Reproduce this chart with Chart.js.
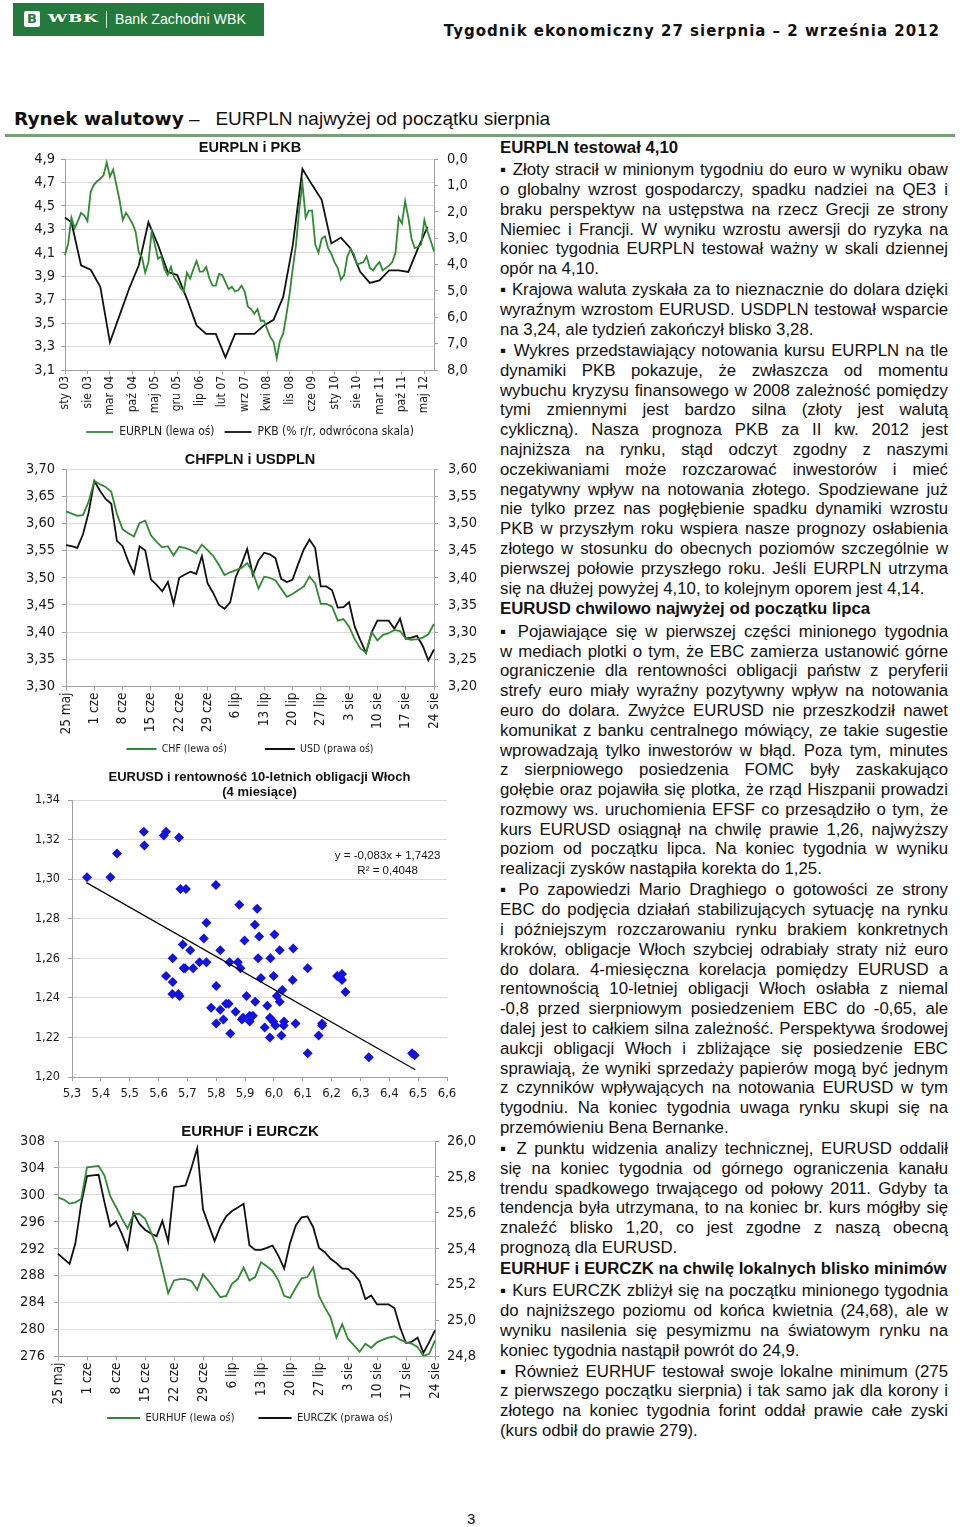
<!DOCTYPE html>
<html lang="pl">
<head>
<meta charset="utf-8">
<title>Rynek walutowy</title>
<script src="https://cdn.jsdelivr.net/npm/chart.js@4.4.1/dist/chart.umd.min.js"></script>
<style>
html,body{margin:0;padding:0;background:#fff;}
#page{position:relative;width:960px;height:1527px;overflow:hidden;font-family:"Liberation Sans",Arial,sans-serif;color:#111;}
.abs{position:absolute;}
#brand{left:13px;top:3px;width:251px;height:33px;background:#237a3c;}
#logo{left:11px;top:8px;width:16px;height:16px;background:#fff;border-radius:2px;color:#237a3c;font:bold 13px/16px "DejaVu Sans",sans-serif;text-align:center;}
#wbk{left:35px;top:9px;color:#fff;font:bold 11px/14px "DejaVu Serif",serif;letter-spacing:0.5px;transform:scaleX(1.55);transform-origin:left center;}
#bdiv{left:93px;top:8px;width:1px;height:17px;background:#d8e8dc;}
#bname{left:102px;top:7px;color:#fff;font:14.2px/19px "Liberation Sans",Arial,sans-serif;white-space:nowrap;}
#doctitle{right:20px;top:21px;font:bold 15px/20px "DejaVu Sans",sans-serif;letter-spacing:1px;white-space:nowrap;color:#111;}
#section{left:14px;top:107px;white-space:nowrap;line-height:24px;}
#section b{font:bold 18.5px/24px "DejaVu Sans",sans-serif;}
#section span{font:19px/24px "Liberation Sans",Arial,sans-serif;}
#rule{left:5px;top:134px;width:950px;height:3px;background:#76a176;}
canvas{position:absolute;}
#text{left:500px;top:137px;width:448px;font-size:16.8px;line-height:19.8px;color:#111;}
#text .h{font-weight:bold;line-height:22px;white-space:nowrap;}
#text .p{margin-top:1.3px;}
#text .l{text-align:justify;text-align-last:justify;}
#pnum{left:467px;top:1510px;font:15px/18px "Liberation Sans",Arial,sans-serif;}
</style>
</head>
<body>
<div id="page">
  <div id="brand" class="abs">
    <div id="logo" class="abs">B</div>
    <div id="wbk" class="abs">WBK</div>
    <div id="bdiv" class="abs"></div>
    <div id="bname" class="abs">Bank Zachodni WBK</div>
  </div>
  <div id="doctitle" class="abs">Tygodnik ekonomiczny 27 sierpnia – 2 września 2012</div>
  <div id="section" class="abs"><b>Rynek walutowy</b><span>&nbsp;–&nbsp;&nbsp;&nbsp;EURPLN najwyżej od początku sierpnia</span></div>
  <div id="rule" class="abs"></div>

  <canvas id="c1" width="460" height="310" style="left:20px;top:138px;"></canvas>
  <canvas id="c2" width="460" height="345" style="left:20px;top:450px;"></canvas>
  <canvas id="c3" width="460" height="338" style="left:20px;top:765px;"></canvas>
  <canvas id="c4" width="460" height="329" style="left:20px;top:1123px;"></canvas>

  <div id="text" class="abs">
    <div class="h">EURPLN testował 4,10</div>
    <div class="p">
      <div class="l">▪ Złoty stracił w minionym tygodniu do euro w wyniku obaw</div>
      <div class="l">o globalny wzrost gospodarczy, spadku nadziei na QE3 i</div>
      <div class="l">braku perspektyw na ustępstwa na rzecz Grecji ze strony</div>
      <div class="l">Niemiec i Francji. W wyniku wzrostu awersji do ryzyka na</div>
      <div class="l">koniec tygodnia EURPLN testował ważny w skali dziennej</div>
      <div>opór na 4,10.</div>
    </div>
    <div class="p">
      <div class="l">▪ Krajowa waluta zyskała za to nieznacznie do dolara dzięki</div>
      <div class="l">wyraźnym wzrostom EURUSD. USDPLN testował wsparcie</div>
      <div>na 3,24, ale tydzień zakończył blisko 3,28.</div>
    </div>
    <div class="p">
      <div class="l">▪ Wykres przedstawiający notowania kursu EURPLN na tle</div>
      <div class="l">dynamiki PKB pokazuje, że zwłaszcza od momentu</div>
      <div class="l">wybuchu kryzysu finansowego w 2008 zależność pomiędzy</div>
      <div class="l">tymi zmiennymi jest bardzo silna (złoty jest walutą</div>
      <div class="l">cykliczną). Nasza prognoza PKB za II kw. 2012 jest</div>
      <div class="l">najniższa na rynku, stąd odczyt zgodny z naszymi</div>
      <div class="l">oczekiwaniami może rozczarować inwestorów i mieć</div>
      <div class="l">negatywny wpływ na notowania złotego. Spodziewane już</div>
      <div class="l">nie tylko przez nas pogłębienie spadku dynamiki wzrostu</div>
      <div class="l">PKB w przyszłym roku wspiera nasze prognozy osłabienia</div>
      <div class="l">złotego w stosunku do obecnych poziomów szczególnie w</div>
      <div class="l">pierwszej połowie przyszłego roku. Jeśli EURPLN utrzyma</div>
      <div>się na dłużej powyżej 4,10, to kolejnym oporem jest 4,14.</div>
    </div>
    <div class="h">EURUSD chwilowo najwyżej od początku lipca</div>
    <div class="p">
      <div class="l">▪ Pojawiające się w pierwszej części minionego tygodnia</div>
      <div class="l">w mediach plotki o tym, że EBC zamierza ustanowić górne</div>
      <div class="l">ograniczenie dla rentowności obligacji państw z peryferii</div>
      <div class="l">strefy euro miały wyraźny pozytywny wpływ na notowania</div>
      <div class="l">euro do dolara. Zwyżce EURUSD nie przeszkodził nawet</div>
      <div class="l">komunikat z banku centralnego mówiący, ze takie sugestie</div>
      <div class="l">wprowadzają tylko inwestorów w błąd. Poza tym, minutes</div>
      <div class="l">z sierpniowego posiedzenia FOMC były zaskakująco</div>
      <div class="l">gołębie oraz pojawiła się plotka, że rząd Hiszpanii prowadzi</div>
      <div class="l">rozmowy ws. uruchomienia EFSF co przesądziło o tym, że</div>
      <div class="l">kurs EURUSD osiągnął na chwilę prawie 1,26, najwyższy</div>
      <div class="l">poziom od początku lipca. Na koniec tygodnia w wyniku</div>
      <div>realizacji zysków nastąpiła korekta do 1,25.</div>
    </div>
    <div class="p">
      <div class="l">▪ Po zapowiedzi Mario Draghiego o gotowości ze strony</div>
      <div class="l">EBC do podjęcia działań stabilizujących sytuację na rynku</div>
      <div class="l">i późniejszym rozczarowaniu rynku brakiem konkretnych</div>
      <div class="l">kroków, obligacje Włoch szybciej odrabiały straty niż euro</div>
      <div class="l">do dolara. 4-miesięczna korelacja pomiędzy EURUSD a</div>
      <div class="l">rentownością 10-letniej obligacji Włoch osłabła z niemal</div>
      <div class="l">-0,8 przed sierpniowym posiedzeniem EBC do -0,65, ale</div>
      <div class="l">dalej jest to całkiem silna zależność. Perspektywa środowej</div>
      <div class="l">aukcji obligacji Włoch i zbliżające się posiedzenie EBC</div>
      <div class="l">sprawiają, że wyniki sprzedaży papierów mogą być jednym</div>
      <div class="l">z czynników wpływających na notowania EURUSD w tym</div>
      <div class="l">tygodniu. Na koniec tygodnia uwaga rynku skupi się na</div>
      <div>przemówieniu Bena Bernanke.</div>
    </div>
    <div class="p">
      <div class="l">▪ Z punktu widzenia analizy technicznej, EURUSD oddalił</div>
      <div class="l">się na koniec tygodnia od górnego ograniczenia kanału</div>
      <div class="l">trendu spadkowego trwającego od połowy 2011. Gdyby ta</div>
      <div class="l">tendencja była utrzymana, to na koniec br. kurs mógłby się</div>
      <div class="l">znaleźć blisko 1,20, co jest zgodne z naszą obecną</div>
      <div>prognozą dla EURUSD.</div>
    </div>
    <div class="h">EURHUF i EURCZK na chwilę lokalnych blisko minimów</div>
    <div class="p">
      <div class="l">▪ Kurs EURCZK zbliżył się na początku minionego tygodnia</div>
      <div class="l">do najniższego poziomu od końca kwietnia (24,68), ale w</div>
      <div class="l">wyniku nasilenia się pesymizmu na światowym rynku na</div>
      <div>koniec tygodnia nastąpił powrót do 24,9.</div>
    </div>
    <div class="p">
      <div class="l">▪ Również EURHUF testował swoje lokalne minimum (275</div>
      <div class="l">z pierwszego początku sierpnia) i tak samo jak dla korony i</div>
      <div class="l">złotego na koniec tygodnia forint oddał prawie całe zyski</div>
      <div>(kurs odbił do prawie 279).</div>
    </div>
  </div>
  <div id="pnum" class="abs">3</div>
</div>

<script>
// ---------- DATA ----------
const plMonths = ['sty','lut','mar','kwi','maj','cze','lip','sie','wrz','paź','lis','gru'];

// Chart 1: EURPLN (monthly, sty 03 .. sie 12) and PKB (quarterly, reversed axis)
const eurplnTicks = ['sty 03','sie 03','mar 04','paź 04','maj 05','gru 05','lip 06','lut 07','wrz 07','kwi 08','lis 08','cze 09','sty 10','sie 10','mar 11','paź 11','maj 12'];
const eurplnValues = [
  4.08,4.18,4.40,4.31,4.37,4.44,4.42,4.37,4.62,4.68,4.71,4.73,
  4.76,4.87,4.75,4.81,4.68,4.55,4.38,4.44,4.40,4.35,4.28,4.10,
  4.06,3.93,4.02,4.28,4.17,4.05,4.07,3.96,3.91,3.98,3.89,3.85,
  3.80,3.77,3.93,3.88,3.96,4.03,3.94,3.94,3.98,3.88,3.82,3.82,
  3.92,3.91,3.85,3.79,3.81,3.77,3.78,3.82,3.77,3.64,3.62,3.58,
  3.62,3.52,3.52,3.45,3.38,3.34,3.20,3.35,3.41,3.57,3.75,3.97,
  4.17,4.47,4.69,4.40,4.46,4.46,4.17,4.10,4.22,4.24,4.14,4.09,
  4.02,3.97,3.87,3.91,4.07,4.13,4.09,4.00,4.01,4.02,4.07,3.97,
  3.95,3.99,4.02,3.95,3.97,3.99,4.02,4.10,4.40,4.35,4.54,4.40,
  4.22,4.14,4.15,4.17,4.38,4.28,4.20,4.11
];
const pkbLabels = ['sty 03','mar 03','cze 03','wrz 03','gru 03','mar 04','cze 04','wrz 04','gru 04',
  'mar 05','cze 05','wrz 05','gru 05','mar 06','cze 06','wrz 06','gru 06','mar 07','cze 07','wrz 07','gru 07',
  'mar 08','cze 08','wrz 08','gru 08','mar 09','cze 09','wrz 09','gru 09','mar 10','cze 10','wrz 10','gru 10',
  'mar 11','cze 11','wrz 11','gru 11','mar 12','cze 12'];
const pkbValues = [2.22,2.40,4.03,4.20,4.85,6.95,5.93,4.91,4.03,2.40,3.26,4.28,4.40,5.30,6.31,6.63,6.63,
  7.52,6.63,6.63,6.63,6.31,6.10,5.23,3.26,0.38,0.98,1.55,3.20,2.98,3.39,4.28,4.70,4.60,4.22,4.22,4.28,3.39,2.57];

// Charts 2 and 4: daily (business days 25 maj .. 24 sie 2012)
const dailyTicks = ['25 maj','1 cze','8 cze','15 cze','22 cze','29 cze','6 lip','13 lip','20 lip','27 lip','3 sie','10 sie','17 sie','24 sie'];
const chfValues = [
  3.622,3.618,3.614,3.615,3.640,3.678,3.672,3.667,3.658,3.617,
  3.589,3.582,3.576,3.601,3.605,3.578,3.566,3.556,3.558,3.541,
  3.557,3.555,3.551,3.545,3.561,3.551,3.540,3.524,3.505,3.510,
  3.514,3.518,3.527,3.510,3.480,3.502,3.500,3.495,3.480,3.465,
  3.470,3.477,3.484,3.502,3.490,3.452,3.452,3.447,3.421,3.424,
  3.410,3.387,3.370,3.362,3.400,3.385,3.395,3.398,3.404,3.402,
  3.388,3.386,3.387,3.390,3.396,3.415
];
const usdValues = [
  3.460,3.458,3.455,3.480,3.520,3.578,3.560,3.545,3.536,3.468,
  3.458,3.430,3.408,3.458,3.450,3.397,3.387,3.375,3.392,3.352,
  3.400,3.406,3.411,3.407,3.440,3.390,3.372,3.350,3.343,3.355,
  3.402,3.425,3.453,3.405,3.432,3.446,3.443,3.436,3.398,3.392,
  3.396,3.425,3.452,3.470,3.455,3.384,3.384,3.377,3.345,3.346,
  3.355,3.310,3.285,3.262,3.300,3.321,3.321,3.321,3.306,3.325,
  3.288,3.290,3.293,3.275,3.248,3.268
];
const eurhufValues = [
  299.6,299.3,298.7,298.9,299.4,304.1,304.2,304.3,302.9,299.8,
  298.2,296.5,295.0,297.1,297.2,296.5,294.5,292.5,289.0,285.4,
  287.3,287.5,287.5,287.2,285.9,288.2,287.2,286.0,284.8,285.0,
  286.8,287.5,289.2,287.3,287.8,290.0,289.4,288.7,287.3,285.0,
  284.7,286.2,287.6,287.8,289.2,285.0,283.3,281.8,278.8,280.8,
  278.6,277.7,276.7,277.9,277.3,278.1,278.5,278.8,279.0,278.5,
  278.1,277.9,277.4,276.1,276.4,278.4
];
const eurczkValues = [
  25.372,25.344,25.316,25.430,25.650,25.805,25.809,25.812,25.660,25.525,
  25.552,25.483,25.400,25.600,25.540,25.506,25.485,25.470,25.555,25.440,
  25.744,25.747,25.753,25.850,25.960,25.620,25.530,25.443,25.525,25.580,
  25.610,25.630,25.651,25.420,25.394,25.394,25.405,25.418,25.360,25.290,
  25.430,25.530,25.575,25.580,25.520,25.405,25.381,25.344,25.320,25.290,
  25.288,25.260,25.220,25.120,25.140,25.090,25.090,25.090,25.070,24.960,
  24.875,24.882,24.905,24.820,24.880,24.945
];

// Chart 3: scatter, Italian 10y yield (x) vs EURUSD (y)
const itYield = [5.352,5.433,5.456,5.549,5.551,5.618,5.626,5.671,5.676,5.695,
  5.799,5.880,5.942,5.766,5.934,5.757,5.949,6.002,5.898,5.684,
  5.710,5.814,6.020,6.067,5.649,5.945,5.988,5.742,5.766,5.846,
  5.875,5.692,5.687,5.720,5.884,6.117,5.626,5.955,5.999,6.219,
  6.236,6.230,6.236,6.065,5.649,5.800,6.029,6.248,5.648,5.669,
  5.673,5.905,6.010,6.020,5.935,5.782,5.834,5.843,5.814,5.867,
  5.977,5.916,5.927,5.893,5.986,5.825,5.889,5.916,5.998,6.035,
  5.800,6.075,6.167,5.968,6.005,6.034,6.167,5.849,5.986,6.026,
  6.155,6.117,6.329,6.479,6.488];
const eurusdValues = [1.301,1.301,1.313,1.324,1.317,1.322,1.324,1.321,1.295,1.295,
  1.297,1.287,1.285,1.278,1.277,1.270,1.271,1.272,1.269,1.267,
  1.264,1.264,1.264,1.265,1.260,1.260,1.260,1.258,1.258,1.258,
  1.258,1.255,1.255,1.255,1.255,1.255,1.251,1.250,1.251,1.251,
  1.252,1.250,1.249,1.249,1.248,1.246,1.244,1.243,1.242,1.242,
  1.241,1.241,1.241,1.238,1.238,1.235,1.237,1.237,1.234,1.233,
  1.236,1.231,1.231,1.230,1.230,1.229,1.229,1.228,1.228,1.228,
  1.227,1.227,1.227,1.225,1.226,1.226,1.226,1.222,1.220,1.221,
  1.221,1.212,1.210,1.212,1.211];
const trendSlope = -0.083, trendIntercept = 1.7423, trendR2 = 0.4048;
const trendXRange = [5.35, 6.49];

// ---------- derived categories ----------
const eurplnMonths = [];
for (let y = 2003; y <= 2012; y++) {
  for (let m = 0; m < 12; m++) {
    if (y === 2012 && m > 7) break;
    eurplnMonths.push(plMonths[m] + ' ' + String(y).slice(2));
  }
}
const dailyLabels = [];
for (let d = new Date(2012, 4, 25); d <= new Date(2012, 7, 24); d.setDate(d.getDate() + 1)) {
  const wd = d.getDay();
  if (wd === 0 || wd === 6) continue;
  dailyLabels.push(d.getDate() + ' ' + plMonths[d.getMonth()]);
}

// ---------- styles ----------
const NARROW = '"Liberation Sans Narrow","Arial Narrow","DejaVu Sans Condensed","Liberation Sans",sans-serif';
const SANS = '"Liberation Sans",Arial,sans-serif';
const GREEN = '#2e8b30', BLACK = '#111111', GRID = '#d9d9d9', AXIS = '#a0a0a0', TXT = '#1a1a1a';
const fmt = (v, d) => Number(v).toFixed(d).replace('.', ',');
const CLEAR = 'rgba(0,0,0,0)';

Chart.defaults.font.family = NARROW;
Chart.defaults.color = TXT;
Chart.defaults.animation = false;

// moves the legend row so that its text is centred on a given y (canvas px)
const legendPlace = {
  id: 'legendPlace',
  afterLayout(chart, args, opts) {
    const L = chart.legend;
    if (!L || opts.centerY == null) return;
    const lo = L.options.labels;
    const cur = L.top + lo.padding + lo.font.size / 2;
    const d = opts.centerY - cur;
    L.top += d; L.bottom += d;
  }
};

function catX(labels, shown, fontSize, height) {
  return {
    type: 'category', offset: false,
    grid: { display: true, drawOnChartArea: false, tickLength: 4, color: c => shown.includes(labels[c.index]) ? AXIS : CLEAR },
    border: { display: true, color: AXIS, width: 1 },
    ticks: { autoSkip: false, maxRotation: 90, minRotation: 90, padding: 2, font: { size: fontSize }, color: TXT,
      callback: (v, i) => shown.includes(labels[i]) ? labels[i] : '' },
    afterFit: s => { s.height = height; }
  };
}
function valY(pos, min, max, step, dec, opts) {
  return {
    type: 'linear', position: pos, min, max, reverse: !!opts.reverse,
    ticks: { stepSize: step, padding: opts.pad, font: { size: opts.font }, color: TXT, callback: v => fmt(v, dec) },
    grid: { drawOnChartArea: pos === 'left', color: GRID, tickLength: 4, tickColor: AXIS },
    border: { display: true, color: AXIS, width: 1 },
    afterFit: s => { s.width = opts.width; }
  };
}
function legendOpts(fontSize, pad, lineW) {
  return { display: true, position: 'bottom',
    labels: { usePointStyle: true, pointStyle: 'line', pointStyleWidth: lineW, padding: pad, color: TXT, font: { size: fontSize } } };
}
function titleOpts(text, size, lh, pt, pb) {
  return { display: true, text, color: '#111', font: { family: SANS, size, weight: 'bold', lineHeight: lh }, padding: { top: pt, bottom: pb } };
}
const base = { responsive: false, maintainAspectRatio: false, animation: false, devicePixelRatio: 1,
  elements: { line: { tension: 0 }, point: { radius: 0 } } };

// ---------- Chart 1: EURPLN i PKB ----------
new Chart(document.getElementById('c1'), {
  type: 'line',
  data: {
    labels: eurplnMonths,
    datasets: [
      { label: 'EURPLN (lewa oś)', data: eurplnValues, yAxisID: 'y', borderColor: GREEN, backgroundColor: GREEN, borderWidth: 1.8, pointRadius: 0 },
      { label: 'PKB (% r/r, odwrócona skala)', data: pkbLabels.map((m, i) => ({ x: m, y: pkbValues[i] })), yAxisID: 'y1', borderColor: BLACK, backgroundColor: BLACK, borderWidth: 1.8, pointRadius: 0 }
    ]
  },
  options: Object.assign({}, base, {
    plugins: { title: titleOpts('EURPLN i PKB', 14.5, 1.2, 1.3, 2.3), legend: legendOpts(12, 10, 27), tooltip: { enabled: false } },
    scales: {
      x: catX(eurplnMonths, eurplnTicks, 12, 46),
      y: valY('left', 3.1, 4.9, 0.2, 1, { pad: 6, font: 14.5, width: 45 }),
      y1: valY('right', 0, 8, 1, 1, { pad: 9, font: 14.5, width: 46, reverse: true })
    }
  })
});

// ---------- Chart 2: CHFPLN i USDPLN ----------
new Chart(document.getElementById('c2'), {
  type: 'line',
  data: {
    labels: dailyLabels,
    datasets: [
      { label: 'CHF (lewa oś)', data: chfValues, yAxisID: 'y', borderColor: GREEN, backgroundColor: GREEN, borderWidth: 1.8, pointRadius: 0 },
      { label: 'USD (prawa oś)', data: usdValues, yAxisID: 'y1', borderColor: BLACK, backgroundColor: BLACK, borderWidth: 1.8, pointRadius: 0 }
    ]
  },
  options: Object.assign({}, base, {
    plugins: { title: titleOpts('CHFPLN i USDPLN', 14.5, 1.2, 1.3, 0.3), legend: legendOpts(10.5, 38, 30),
      legendPlace: { centerY: 299 }, tooltip: { enabled: false } },
    scales: {
      x: catX(dailyLabels, dailyTicks, 13.5, 50),
      y: valY('left', 3.30, 3.70, 0.05, 2, { pad: 7, font: 14.5, width: 46 }),
      y1: valY('right', 3.20, 3.60, 0.05, 2, { pad: 10, font: 14.5, width: 46 })
    }
  }),
  plugins: [legendPlace]
});

// ---------- Chart 3: EURUSD vs Italian yields ----------
const eqPlugin = {
  id: 'trendEquation',
  afterDatasetsDraw(chart) {
    const { ctx, scales: { x, y } } = chart;
    ctx.save();
    ctx.font = '11.5px ' + SANS;
    ctx.fillStyle = '#111';
    ctx.textAlign = 'center';
    ctx.textBaseline = 'middle';
    const px = x.getPixelForValue(6.394);
    ctx.fillText('y = ' + fmt(trendSlope, 3) + 'x + ' + fmt(trendIntercept, 4), px, y.getPixelForValue(1.3119));
    ctx.fillText('R² = ' + fmt(trendR2, 4), px, y.getPixelForValue(1.3043));
    ctx.restore();
  }
};
new Chart(document.getElementById('c3'), {
  type: 'scatter',
  data: {
    datasets: [
      { type: 'line', label: 'trend', data: trendXRange.map(v => ({ x: v, y: trendSlope * v + trendIntercept })), borderColor: '#000', borderWidth: 1.2, pointRadius: 0, order: 0 },
      { type: 'scatter', label: 'EURUSD', data: itYield.map((v, i) => ({ x: v, y: eurusdValues[i] })), pointStyle: 'rectRot', pointRadius: 5, backgroundColor: '#1212e6', borderColor: '#1212e6', borderWidth: 0, order: 1 }
    ]
  },
  options: Object.assign({}, base, {
    layout: { padding: { right: 33 } },
    plugins: {
      title: Object.assign(titleOpts(['EURUSD i rentowność 10-letnich obligacji Włoch', '(4 miesiące)'], 13, 1.15, 4.5, 0.6), { fullSize: false }),
      legend: { display: false }, tooltip: { enabled: false }
    },
    scales: {
      x: { type: 'linear', min: 5.3, max: 6.6,
        ticks: { stepSize: 0.1, padding: 5, font: { size: 13 }, color: TXT, callback: v => fmt(v, 1) },
        grid: { drawOnChartArea: false, tickLength: 4, color: AXIS },
        border: { display: true, color: AXIS },
        afterFit: s => { s.height = 26; } },
      y: { type: 'linear', min: 1.20, max: 1.34,
        ticks: { stepSize: 0.02, padding: 8, font: { size: 12.5 }, color: TXT, callback: v => fmt(v, 2) },
        grid: { color: GRID, tickLength: 4, tickColor: AXIS },
        border: { display: true, color: AXIS },
        afterFit: s => { s.width = 52; } }
    }
  }),
  plugins: [eqPlugin]
});

// ---------- Chart 4: EURHUF i EURCZK ----------
new Chart(document.getElementById('c4'), {
  type: 'line',
  data: {
    labels: dailyLabels,
    datasets: [
      { label: 'EURHUF (lewa oś)', data: eurhufValues, yAxisID: 'y', borderColor: GREEN, backgroundColor: GREEN, borderWidth: 1.8, pointRadius: 0 },
      { label: 'EURCZK (prawa oś)', data: eurczkValues, yAxisID: 'y1', borderColor: BLACK, backgroundColor: BLACK, borderWidth: 1.8, pointRadius: 0 }
    ]
  },
  options: Object.assign({}, base, {
    plugins: { title: titleOpts('EURHUF i EURCZK', 15, 1.1, 1, 0.5), legend: legendOpts(11, 24, 33),
      legendPlace: { centerY: 295 }, tooltip: { enabled: false } },
    scales: {
      x: catX(dailyLabels, dailyTicks, 13.5, 50.5),
      y: valY('left', 276, 308, 4, 0, { pad: 9, font: 14.5, width: 38 }),
      y1: valY('right', 24.8, 26.0, 0.2, 1, { pad: 8, font: 14.5, width: 45 })
    }
  }),
  plugins: [legendPlace]
});
</script>
</body>
</html>
